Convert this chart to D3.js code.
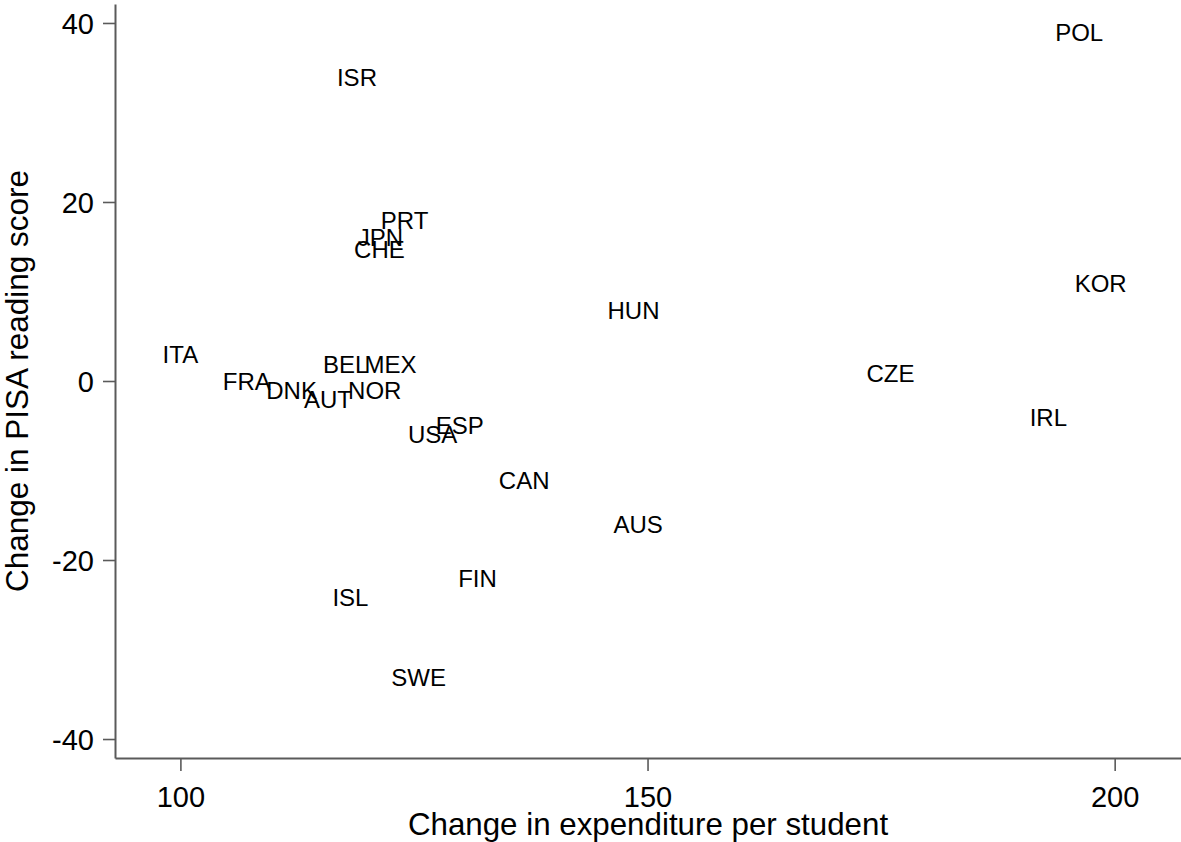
<!DOCTYPE html>
<html>
<head>
<meta charset="utf-8">
<script src="https://cdn.jsdelivr.net/npm/d3@7/dist/d3.min.js"></script>
<style>
  html, body { margin: 0; padding: 0; background: #fff; }
  svg { display: block; font-family: "Liberation Sans", Arial, sans-serif; }
</style>
</head>
<body>
<svg id="chart" width="1181" height="842"></svg>
<script>
// Country codes (labels)
const countries = ["POL","ISR","PRT","JPN","CHE","HUN","KOR","ITA","FRA","DNK","AUT","BEL","MEX","NOR","CZE","IRL","ESP","USA","CAN","AUS","FIN","ISL","SWE"];
// Change in expenditure per student
const expenditure = [196.2,118.9,124.0,121.4,121.3,148.5,198.5,100.0,107.1,111.9,115.8,117.7,122.5,120.8,176.0,192.9,129.9,127.0,136.8,149.0,131.8,118.2,125.5];
// Change in PISA reading score
const reading = [38.9,33.9,18.0,16.1,14.7,7.9,10.9,3.0,0.0,-1.1,-2.1,1.9,1.9,-1.1,0.9,-4.1,-5.0,-6.0,-11.1,-16.0,-22.1,-24.2,-33.1];
const xTicks = [100,150,200];
const yTicks = [-40,-20,0,20,40];
const xTitle = "Change in expenditure per student";
const yTitle = "Change in PISA reading score";

const plotLeft = 115, plotTop = 4, plotBottom = 758, plotRight = 1181;
const svg = d3.select("#chart");

const x = d3.scaleLinear().domain([93, 207.1]).range([plotLeft, plotRight]);
const y = d3.scaleLinear().domain([-42.12, 42.12]).range([plotBottom, plotTop]);

const axisColor = "#5a5a5a";
const fmt = d => String(d); // plain hyphen-minus as in the reference

const gx = svg.append("g").attr("transform", `translate(0,${plotBottom})`)
  .call(d3.axisBottom(x).tickValues(xTicks).tickFormat(fmt).tickSize(13).tickSizeOuter(0).tickPadding(15));
const gy = svg.append("g").attr("transform", `translate(${plotLeft},0)`)
  .call(d3.axisLeft(y).tickValues(yTicks).tickFormat(fmt).tickSize(12).tickSizeOuter(0).tickPadding(9));

[gx, gy].forEach(g => {
  g.select(".domain").attr("stroke", axisColor).attr("stroke-width", 2);
  g.selectAll(".tick line").attr("stroke", axisColor).attr("stroke-width", 1.6);
  g.selectAll(".tick text").attr("fill", "#000").style("font-size", "29px")
    .style("font-family", '"Liberation Sans", Arial, sans-serif');
});
gy.selectAll(".tick text").attr("dy", "0.36em");

// Axis titles
svg.append("text")
  .attr("x", (plotLeft + plotRight) / 2).attr("y", 835)
  .attr("text-anchor", "middle").style("font-size", "31.3px").attr("fill", "#000")
  .text(xTitle);
svg.append("text")
  .attr("transform", `translate(28,${(plotTop + plotBottom) / 2}) rotate(-90)`)
  .attr("text-anchor", "middle").style("font-size", "31.5px").attr("fill", "#000")
  .text(yTitle);

// Labels centered on points
const data = countries.map((c, i) => ({ c, x: expenditure[i], y: reading[i] }));
svg.append("g").selectAll("text").data(data).join("text")
  .attr("x", d => x(d.x)).attr("y", d => y(d.y))
  .attr("dy", "0.36em").attr("text-anchor", "middle")
  .style("font-size", "24px").attr("fill", "#000")
  .text(d => d.c);
</script>
</body>
</html>
